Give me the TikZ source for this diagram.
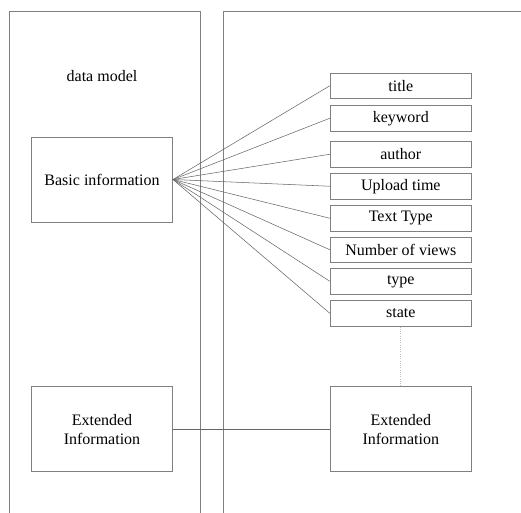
\documentclass[tikz,border=0pt]{standalone}
\usepackage{fontspec}
\setmainfont{Liberation Serif}
\tikzset{
    bigbox/.style={draw=gray, line width=0.7pt, minimum width=105.75pt, minimum height=63.75pt, align=center, inner sep=0pt},
    attrbox/.style={draw=gray, line width=0.7pt, minimum width=105.75pt, minimum height=19.1pt, inner sep=0pt},
    fanline/.style={gray!80!black, line width=0.4pt}
}
\begin{document}
\begin{tikzpicture}[x=0.75pt, y=-0.75pt, font=\fontsize{12}{14.25}\selectfont]
    \useasboundingbox (0,0) rectangle (521,513);

    % Panels
    \draw[gray, line width=0.7pt] (9.5,513) -- (9.5,11) -- (200.5,11) -- (200.5,513);
    \draw[gray, line width=0.7pt] (223,513) -- (223,11) -- (521,11);

    % Left panel
    \node (model) at (102,76) {data model};
    \node[bigbox] (basic) at (102,179.5) {Basic information};
    \node[bigbox] (extL) at (102,429.2) {Extended\\Information};

    % Attributes
    \node[attrbox] (title) at (400.8,85.75) {title};
    \node[attrbox] (keyword) at (400.8,118.25) {keyword};
    \node[attrbox] (author) at (400.8,154.25) {author};
    \node[attrbox] (upload) at (400.8,186.25) {Upload time};
    \node[attrbox] (texttype) at (400.8,218.25) {Text Type};
    \node[attrbox] (views) at (400.8,249.75) {Number of views};
    \node[attrbox] (type) at (400.8,281.3) {type};
    \node[attrbox] (state) at (400.8,313.3) {state};
    \node[bigbox] (extR) at (400.8,429.2) {Extended\\Information};

    % Fan from basic information
    \draw[fanline] (basic.east) -- (title.west);
    \draw[fanline] (basic.east) -- (keyword.west);
    \draw[fanline] (basic.east) -- (author.west);
    \draw[fanline] (basic.east) -- (upload.west);
    \draw[fanline] (basic.east) -- (texttype.west);
    \draw[fanline] (basic.east) -- (views.west);
    \draw[fanline] (basic.east) -- (type.west);
    \draw[fanline] (basic.east) -- (state.west);

    % Extended links
    \draw[gray!80!black, line width=0.5pt] (extL.east) -- (extR.west);
    \draw[gray!50, line width=0.7pt, densely dotted] (state.south) -- (extR.north);
\end{tikzpicture}
\end{document}
